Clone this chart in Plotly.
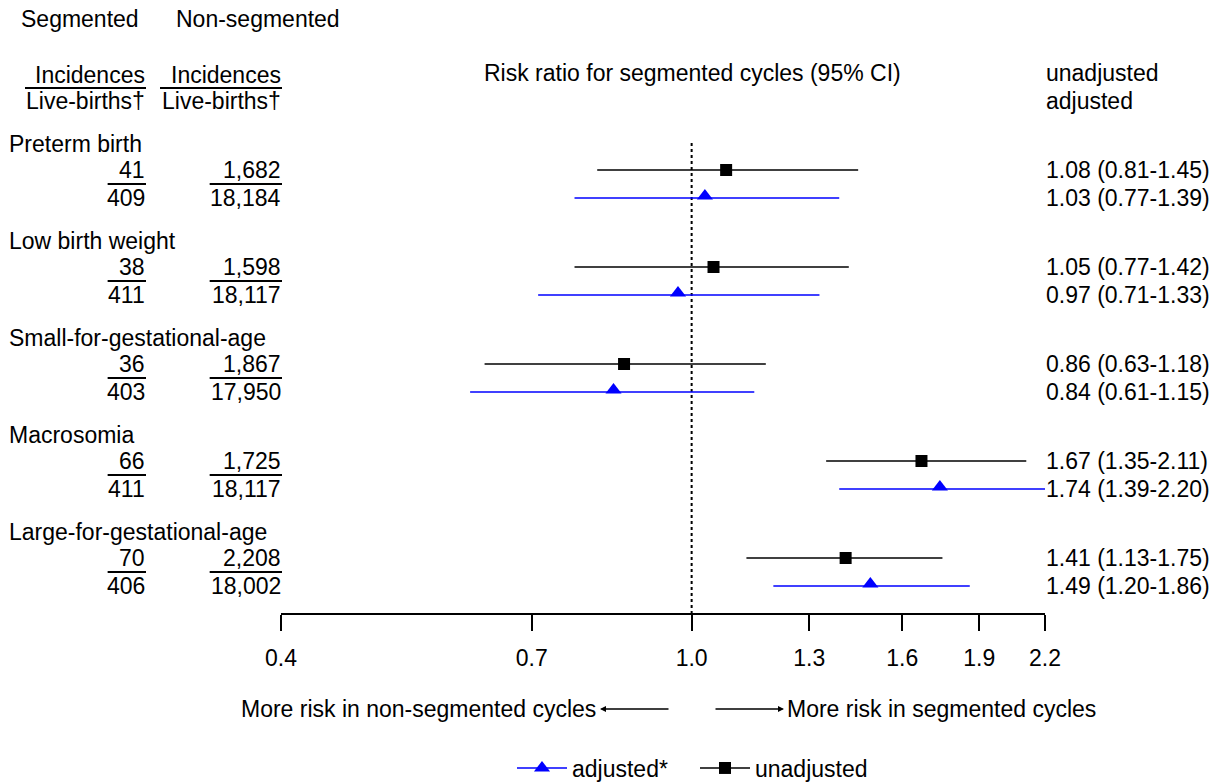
import math
import plotly.graph_objects as go

# ---------------- data ----------------
outcomes = ["Preterm birth", "Low birth weight", "Small-for-gestational-age",
            "Macrosomia", "Large-for-gestational-age"]
seg_incidences = ["41", "38", "36", "66", "70"]
seg_livebirths = ["409", "411", "403", "411", "406"]
non_incidences = ["1,682", "1,598", "1,867", "1,725", "2,208"]
non_livebirths = ["18,184", "18,117", "17,950", "18,117", "18,002"]

unadj_rr = [1.08, 1.05, 0.86, 1.67, 1.41]
unadj_lo = [0.81, 0.77, 0.63, 1.35, 1.13]
unadj_hi = [1.45, 1.42, 1.18, 2.11, 1.75]
adj_rr = [1.03, 0.97, 0.84, 1.74, 1.49]
adj_lo = [0.77, 0.71, 0.61, 1.39, 1.20]
adj_hi = [1.39, 1.33, 1.15, 2.20, 1.86]

tick_vals = [0.4, 0.7, 1.0, 1.3, 1.6, 1.9, 2.2]
tick_text = ["0.4", "0.7", "1.0", "1.3", "1.6", "1.9", "2.2"]

# ---------------- layout helpers ----------------
PAGE_W, PAGE_H = 1216, 782
BODY = 0                       # page body margin removed via post_script
W, H = PAGE_W - BODY, PAGE_H - BODY
FONT = "Liberation Sans, Arial, sans-serif"
FS = 23
FS_R = 23
X0, X1 = 281, 1045          # page-pixel span of the plotting axis
ROW0, STEP, OFF = 170, 97.0, 28
AXIS_Y = 614


def px(x):
    return (x - BODY) / W


def py(y):
    return 1 - (y - BODY) / H


def row_y(i):
    return ROW0 + STEP * i


CW = {c: 0.556 for c in "0123456789"}
CW.update({",": 0.278, ".": 0.278})


def text_w(s, fs=FS):
    return sum(CW.get(c, 0.556) for c in s) * fs


fig = go.Figure()


def ci_trace(lo, hi, off, color):
    xs, ys = [], []
    for i in range(len(lo)):
        xs += [lo[i], hi[i], None]
        ys += [row_y(i) + off, row_y(i) + off, None]
    return go.Scatter(x=xs, y=ys, mode="lines", line=dict(color=color, width=1.6),
                      showlegend=False, hoverinfo="skip")


fig.add_trace(ci_trace(unadj_lo, unadj_hi, 0, "black"))
fig.add_trace(ci_trace(adj_lo, adj_hi, OFF, "#0000FF"))


def pt_trace(rr, off, color, symbol, size, name, rank):
    xs, ys = [], []
    for i in range(len(rr)):
        xs += [rr[i], None]
        ys += [row_y(i) + off, None]
    return go.Scatter(x=xs, y=ys, mode="lines+markers", name=name,
                      line=dict(color=color, width=1.6),
                      marker=dict(color=color, symbol=symbol, size=size, line=dict(width=0)),
                      legendrank=rank, connectgaps=False)


fig.add_trace(pt_trace(adj_rr, OFF - 2, "#0000FF", "triangle-up", 14, "adjusted*", 1))
fig.add_trace(pt_trace(unadj_rr, 0, "black", "square", 12, "unadjusted", 2))

# reference dotted line at RR = 1
fig.add_shape(type="line", xref="x", yref="y", x0=1.0, x1=1.0, y0=143, y1=AXIS_Y,
              line=dict(color="black", width=2, dash="dot"), layer="below")

ann = []


def txt(x, y, s, anchor="left", size=FS):
    ann.append(dict(x=px(x), y=y, xref="paper", yref="y", text=s, showarrow=False,
                    xanchor=anchor, yanchor="middle", font=dict(size=size, color="black", family=FONT)))


def hline(x0, x1, y, w=1.8):
    fig.add_shape(type="line", xref="paper", yref="y", x0=px(x0), x1=px(x1), y0=y, y1=y,
                  line=dict(color="black", width=w))


# headers
txt(80, 19, "Segmented", "center")
txt(258, 19, "Non-segmented", "center")
txt(147, 75, "Incidences", "right")
txt(147, 101, "Live-births†", "right")
hline(25, 146, 88)
txt(283, 75, "Incidences", "right")
txt(283, 101, "Live-births†", "right")
hline(160, 282, 88)
txt(692, 73, "Risk ratio for segmented cycles (95% CI)", "center")
txt(1044, 73, "unadjusted", "left")
txt(1044, 101, "adjusted", "left")

# rows
for i, name in enumerate(outcomes):
    y = row_y(i)
    txt(7, y - 26, name, "left")
    txt(147, y, seg_incidences[i], "right")
    txt(147, y + OFF, seg_livebirths[i], "right")
    wseg = max(text_w(seg_incidences[i]), text_w(seg_livebirths[i]))
    hline(146 - wseg, 146, y + 14)
    txt(283, y, non_incidences[i], "right")
    txt(283, y + OFF, non_livebirths[i], "right")
    wnon = max(text_w(non_incidences[i]), text_w(non_livebirths[i]))
    hline(282 - wnon - 2, 282, y + 14)
    txt(1044, y, f"{unadj_rr[i]:.2f} ({unadj_lo[i]:.2f}-{unadj_hi[i]:.2f})", "left", FS_R)
    txt(1044, y + OFF, f"{adj_rr[i]:.2f} ({adj_lo[i]:.2f}-{adj_hi[i]:.2f})", "left", FS_R)

# bottom direction labels with arrows
txt(598, 709, "More risk in non-segmented cycles", "right")
txt(785, 709, "More risk in segmented cycles", "left")
ann.append(dict(x=px(600), y=709, xref="paper", yref="y", ax=70, ay=0, axref="pixel", ayref="pixel",
                text="", showarrow=True, arrowhead=2, arrowsize=0.8, arrowwidth=1.5, arrowcolor="black"))
ann.append(dict(x=px(784), y=709, xref="paper", yref="y", ax=-70, ay=0, axref="pixel", ayref="pixel",
                text="", showarrow=True, arrowhead=2, arrowsize=0.8, arrowwidth=1.5, arrowcolor="black"))

fig.update_layout(
    width=W, height=H,
    margin=dict(l=0, r=0, t=0, b=0, pad=0, autoexpand=False),
    paper_bgcolor="white", plot_bgcolor="white",
    font=dict(family=FONT, size=FS, color="black"),
    annotations=ann,
    showlegend=True,
    legend=dict(orientation="h", x=px(512), xanchor="left", y=py(768), yanchor="middle",
                font=dict(size=FS, family=FONT), bgcolor="rgba(0,0,0,0)", itemwidth=50,
                entrywidth=118, traceorder="normal"),
    xaxis=dict(type="log", range=[math.log10(tick_vals[0]), math.log10(tick_vals[-1])],
               domain=[px(X0), px(X1)], anchor="free", position=py(AXIS_Y),
               showline=True, linecolor="black", linewidth=1.5, showgrid=False, zeroline=False,
               ticks="outside", ticklen=16, tickwidth=1.5, tickcolor="black",
               tickvals=tick_vals, ticktext=tick_text, ticklabelstandoff=8,
               tickfont=dict(size=FS, family=FONT, color="black")),
    yaxis=dict(range=[PAGE_H, BODY], domain=[0, 1], visible=False, showgrid=False, zeroline=False),
)

fig.write_html("out.html",
               config={"displayModeBar": False},
               post_script="document.body.style.margin='0px';document.body.style.overflow='hidden';")
